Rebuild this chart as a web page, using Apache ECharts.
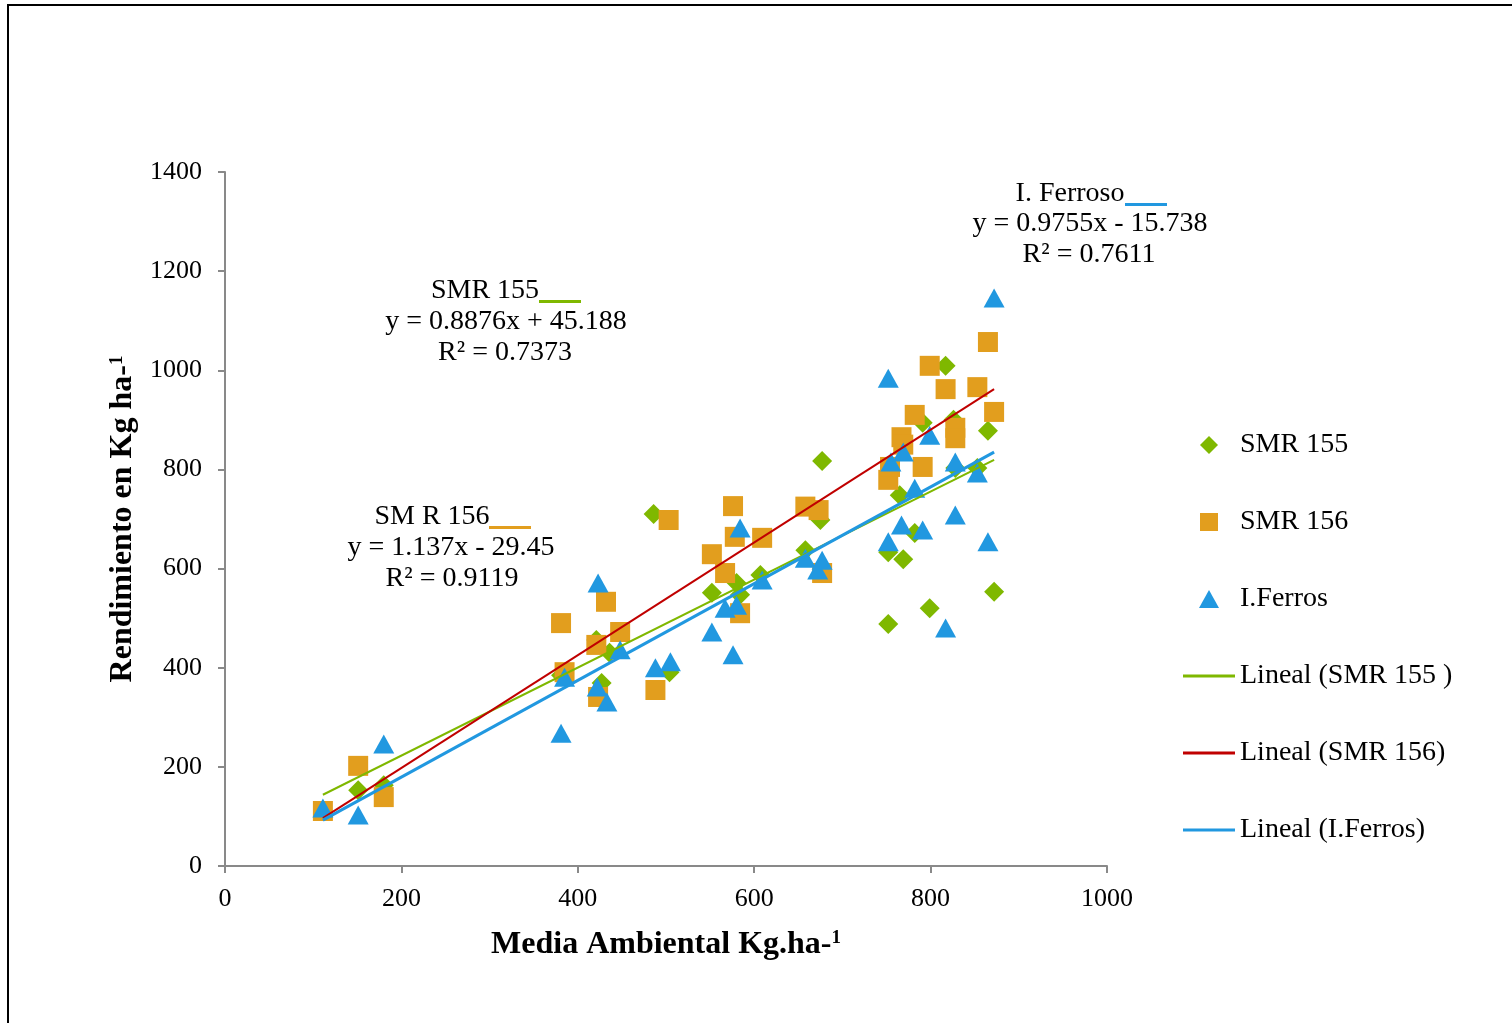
<!DOCTYPE html>
<html>
<head>
<meta charset="utf-8">
<script src="https://cdn.jsdelivr.net/npm/echarts@6/dist/echarts.min.js"></script>
<style>
html, body { margin: 0; padding: 0; background: #fff; }
#chart { width: 1512px; height: 1023px; }
</style>
</head>
<body>
<div id="chart"></div>
<script>
// media ambiental / rendimiento pairs
const smr155 = [
    [151, 153], [180, 163], [381, 385], [421, 456], [427, 369], [436, 430],
    [486, 710], [504, 391], [552, 551], [580, 571], [584, 547], [607, 587],
    [658, 637], [675, 698], [677, 817], [752, 633], [752, 488], [765, 748],
    [769, 619], [782, 672], [791, 894], [799, 520], [817, 1009], [826, 900],
    [828, 803], [853, 803], [865, 878], [872, 553]
];
const smr156 = [
    [111, 111], [151, 202], [180, 139], [381, 490], [385, 391], [421, 446],
    [423, 341], [432, 533], [448, 472], [488, 355], [503, 698], [552, 629],
    [567, 591], [576, 726], [578, 664], [584, 510], [609, 662], [658, 725],
    [673, 718], [677, 591], [752, 779], [754, 805], [767, 865], [769, 850],
    [782, 910], [791, 805], [799, 1009], [817, 962], [828, 884], [828, 863],
    [853, 966], [865, 1057], [872, 916]
];
const ferros = [
    [111, 117], [151, 103], [180, 246], [381, 268], [385, 381], [422, 361],
    [423, 571], [433, 331], [448, 436], [488, 400], [505, 412], [552, 472],
    [567, 520], [576, 426], [580, 526], [584, 682], [609, 577], [658, 621],
    [672, 597], [677, 617], [752, 984], [752, 654], [755, 815], [767, 688],
    [769, 835], [782, 762], [791, 678], [799, 869], [817, 480], [828, 815],
    [828, 708], [853, 793], [865, 654], [872, 1146]
];

// trend equations printed on the chart: [slope, intercept]
const fit155 = [0.8876, 45.188];
const fit156 = [1.137, -29.45];
const fitFerros = [0.9755, -15.738];
const fitRange = [111, 872];

const xTicks = [0, 1000, 200];
const yTicks = [0, 1400, 200];

const green = '#7fb800';
const orange = '#e29e1e';
const blue = '#2198e0';
const red = '#c00000';
const font = '"Liberation Serif", "DejaVu Serif", serif';

function trend(fit) {
    return fitRange.map(function (x) { return [x, fit[0] * x + fit[1]]; });
}

const chart = echarts.init(document.getElementById('chart'));

const eqStyle = { fontFamily: font, fontSize: 28, fill: '#000', textAlign: 'center', textVerticalAlign: 'middle' };

function eqText(x, y, txt) {
    return { type: 'text', x: x, y: y, style: Object.assign({ text: txt }, eqStyle) };
}

const nameStyle = {
    fontFamily: font, fontSize: 32, fontWeight: 'bold', color: '#000',
    rich: { sup: { fontFamily: font, fontSize: 19, fontWeight: 'bold', verticalAlign: 'top', color: '#000' } }
};
const lineIcon = 'path://M0,0H52V3H0Z';
const plain = function (v) { return String(v); };

chart.setOption({
    animation: false,
    backgroundColor: '#fff',
    grid: { left: 225, right: 405, top: 172, bottom: 157 },
    xAxis: {
        type: 'value',
        min: xTicks[0], max: xTicks[1], interval: xTicks[2],
        splitLine: { show: false },
        axisLine: { onZero: false, lineStyle: { color: '#898989', width: 2 } },
        axisTick: { lineStyle: { color: '#898989', width: 2 }, length: 7 },
        axisLabel: { fontFamily: font, fontSize: 26, color: '#000', margin: 20, formatter: plain },
        name: 'Media Ambiental Kg.ha-{sup|1}',
        nameLocation: 'middle',
        nameGap: 63,
        nameTextStyle: nameStyle
    },
    yAxis: {
        type: 'value',
        min: yTicks[0], max: yTicks[1], interval: yTicks[2],
        splitLine: { show: false },
        axisLine: { show: true, onZero: false, lineStyle: { color: '#898989', width: 2 } },
        axisTick: { show: true, lineStyle: { color: '#898989', width: 2 }, length: 7 },
        axisLabel: { fontFamily: font, fontSize: 26, color: '#000', margin: 23, formatter: plain },
        name: 'Rendimiento en Kg ha-{sup|1}',
        nameLocation: 'middle',
        nameGap: 83,
        nameTextStyle: nameStyle
    },
    legend: {
        orient: 'vertical',
        left: 1178,
        top: 426,
        itemWidth: 52,
        itemHeight: 18,
        itemGap: 49,
        textStyle: { fontFamily: font, fontSize: 28, color: '#000', lineHeight: 18 },
        data: [
            { name: 'SMR 155', icon: 'path://M10,0L20,10L10,20L0,10Z' },
            { name: 'SMR 156', icon: 'path://M0,0H20V20H0Z' },
            { name: 'I.Ferros', icon: 'path://M10,0L20,18H0Z' },
            { name: 'Lineal (SMR 155 )', icon: lineIcon },
            { name: 'Lineal (SMR 156)', icon: lineIcon },
            { name: 'Lineal (I.Ferros)', icon: lineIcon }
        ]
    },
    graphic: [
        { type: 'rect', shape: { x: 8, y: 5, width: 1520, height: 1040 }, style: { fill: null, stroke: '#000', lineWidth: 2 }, silent: true },
        eqText(485, 291, 'SMR 155'),
        { type: 'rect', shape: { x: 539, y: 300, width: 42, height: 3 }, style: { fill: green } },
        eqText(506, 322, 'y = 0.8876x + 45.188'),
        eqText(505, 353, 'R² = 0.7373'),
        eqText(432, 517, 'SM R 156'),
        { type: 'rect', shape: { x: 489, y: 526, width: 42, height: 3 }, style: { fill: orange } },
        eqText(451, 548, 'y = 1.137x - 29.45'),
        eqText(452, 579, 'R² = 0.9119'),
        eqText(1070, 194, 'I. Ferroso'),
        { type: 'rect', shape: { x: 1125, y: 203, width: 42, height: 3 }, style: { fill: blue } },
        eqText(1090, 224, 'y = 0.9755x - 15.738'),
        eqText(1089, 255, 'R² = 0.7611')
    ],
    series: [
        {
            name: 'SMR 155', type: 'scatter', data: smr155,
            symbol: 'diamond', symbolSize: 20,
            itemStyle: { color: green, opacity: 1 }
        },
        {
            name: 'SMR 156', type: 'scatter', data: smr156,
            symbol: 'rect', symbolSize: 20,
            itemStyle: { color: orange, opacity: 1 }
        },
        {
            name: 'I.Ferros', type: 'scatter', data: ferros,
            symbol: 'triangle', symbolSize: [21, 19],
            itemStyle: { color: blue, opacity: 1 }
        },
        {
            name: 'Lineal (SMR 155 )', type: 'line', data: trend(fit155),
            symbol: 'none', lineStyle: { color: green, width: 2 }, itemStyle: { color: green }
        },
        {
            name: 'Lineal (SMR 156)', type: 'line', data: trend(fit156),
            symbol: 'none', lineStyle: { color: red, width: 2 }, itemStyle: { color: red }
        },
        {
            name: 'Lineal (I.Ferros)', type: 'line', data: trend(fitFerros),
            symbol: 'none', lineStyle: { color: blue, width: 3 }, itemStyle: { color: blue }
        }
    ]
});
</script>
</body>
</html>
